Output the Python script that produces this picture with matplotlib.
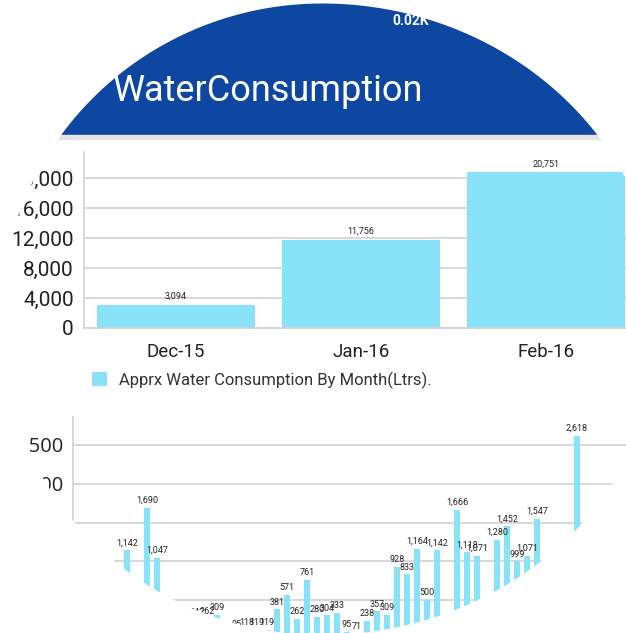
import numpy as np
import matplotlib.pyplot as plt
from matplotlib.path import Path
from matplotlib.patches import PathPatch, Rectangle

W, H = 626, 633
HEADER_BLUE = "#0D47A1"
BAR_COLOR = "#88E2F8"
GRID = "#d2d2d2"
TEXT = "#222222"

# monthly totals (top chart)
months = ["Dec-15", "Jan-16", "Feb-16"]
monthly_litres = [3094, 11756, 20751]
monthly_ticks = [0, 4000, 8000, 12000, 16000, 20000]

# daily readings (bottom chart), position = day slot, gaps are days with no reading
day_slot = [0, 2, 3, 4, 5, 6, 7, 8, 9, 10, 11, 12, 13, 14, 15, 16, 17, 18, 19,
            20, 21, 22, 23, 24, 25, 26, 27, 28, 29, 30, 31, 33, 34, 35, 37, 38,
            39, 40, 41, 45]
daily_litres = [1142, 1690, 1047, 238, 190, 214, 242, 262, 309, 71, 95, 118,
                119, 119, 381, 571, 262, 761, 280, 304, 333, 95, 71, 238, 357,
                309, 928, 833, 1164, 500, 1142, 1666, 1118, 1071, 1280, 1452,
                999, 1071, 1547, 2618]
daily_ticks = [500, 1000, 1500, 2000, 2500]

plt.rcParams["font.family"] = ["Roboto", "DejaVu Sans"]


def fx(px):
    return px / W


def fy(py):
    return 1 - py / H


fig = plt.figure(figsize=(W / 100, H / 100), dpi=100)
fig.patch.set_facecolor("white")

# header band
fig.add_artist(Rectangle((0, fy(135)), 1, 135 / H, transform=fig.transFigure,
                         color=HEADER_BLUE, zorder=1))
fig.add_artist(Rectangle((0, fy(139)), 1, 4 / H, transform=fig.transFigure,
                         color="#e4e4e4", zorder=1))
fig.text(fx(113), fy(101), "WaterConsumption", color="white", fontsize=26,
         va="baseline", zorder=2)
fig.text(fx(392), fy(25), "0.02K", color="white", fontsize=10,
         fontweight="bold", va="baseline", zorder=2)

# monthly chart
ax1 = fig.add_axes([fx(83.5), fy(328), (638.5 - 83.5) / W, 176 / H])
bars = ax1.bar(range(len(months)), monthly_litres, width=0.85, color=BAR_COLOR,
               zorder=2)
ax1.bar_label(bars, labels=[f"{v:,}" for v in monthly_litres], padding=3,
              fontsize=6.5, color=TEXT)
ax1.set_xlim(-0.5, 2.5)
ax1.set_ylim(0, 23470)
ax1.set_yticks(monthly_ticks)
ax1.set_yticklabels([f"{v:,}" for v in monthly_ticks], fontsize=15, color=TEXT)
ax1.set_xticks(range(len(months)))
ax1.set_xticklabels(months, fontsize=13.5, color=TEXT)
ax1.tick_params(axis="y", length=0, pad=7)
ax1.tick_params(axis="x", length=0, pad=11)
ax1.grid(axis="y", color=GRID, linewidth=1.2, zorder=0)
for s in ["top", "right"]:
    ax1.spines[s].set_visible(False)
ax1.spines["left"].set_color(GRID)
ax1.spines["bottom"].set_color(GRID)
ax1.spines["left"].set_linewidth(1.2)
ax1.spines["bottom"].set_linewidth(1.2)
# first month label sits a little right of its bar in the screenshot
lbl = ax1.get_xticklabels()[0]
lbl.set_x(0.15)
ax1.legend([bars], ["Apprx Water Consumption By Month(Ltrs)."],
           loc="center left", bbox_to_anchor=(fx(92), fy(380)),
           bbox_transform=fig.transFigure, frameon=False, fontsize=12,
           handlelength=0.9, handleheight=0.9, handletextpad=0.7,
           borderpad=0, borderaxespad=0, labelcolor="#333333")

# daily chart
ax2 = fig.add_axes([fx(73), fy(639), 553 / W, 222 / H])
dbars = ax2.bar(day_slot, daily_litres, width=0.65, color=BAR_COLOR, zorder=2)
ax2.bar_label(dbars, labels=[f"{v:,}" for v in daily_litres], padding=2,
              fontsize=6.5, color=TEXT)
ax2.set_xlim(-5.4, 49.9)
ax2.set_ylim(0, 2860)
ax2.set_yticks(daily_ticks)
ax2.set_yticklabels([f"{v:,}" for v in daily_ticks], fontsize=14.5,
                    color=TEXT, family=["Open Sans", "DejaVu Sans"])
ax2.set_xticks([])
ax2.tick_params(axis="y", length=0, pad=7)
ax2.grid(axis="y", color=GRID, linewidth=1.2, zorder=0)
for s in ["top", "right", "bottom"]:
    ax2.spines[s].set_visible(False)
ax2.spines["left"].set_color(GRID)
ax2.spines["left"].set_linewidth(1.2)

# round lens crop of the photo: white outside a slightly lopsided oval
cx, cy, a_left, a_right, b_top, b_bottom = 322, 321.5, 322, 340, 318, 313.5
t = np.linspace(0, 2 * np.pi, 400)
a = np.where(np.cos(t) >= 0, a_right, a_left)
b = np.where(np.sin(t) >= 0, b_top, b_bottom)
ox = cx + a * np.cos(t)
oy = cy - b * np.sin(t)
inner = np.column_stack([fx(ox), fy(oy)])[::-1]
outer = np.array([[-0.1, -0.1], [1.1, -0.1], [1.1, 1.1], [-0.1, 1.1], [-0.1, -0.1]])
verts = np.vstack([outer, inner, inner[:1]])
codes = ([Path.MOVETO] + [Path.LINETO] * 3 + [Path.CLOSEPOLY]
         + [Path.MOVETO] + [Path.LINETO] * (len(inner) - 1) + [Path.CLOSEPOLY])
fig.add_artist(PathPatch(Path(verts, codes), transform=fig.transFigure,
                         facecolor="white", edgecolor="none", zorder=20))

fig.savefig("out.png", dpi=100)
